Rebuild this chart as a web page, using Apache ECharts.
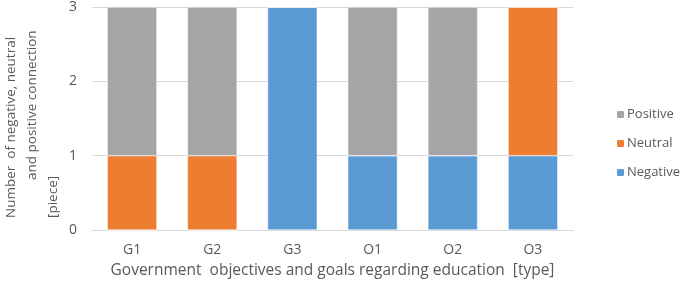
<!DOCTYPE html>
<html>
<head>
<meta charset="utf-8">
<script src="https://cdn.jsdelivr.net/npm/echarts@6/dist/echarts.min.js"></script>
<style>
  html, body { margin: 0; padding: 0; background: #fff; }
  #chart { width: 685px; height: 281px; }
</style>
</head>
<body>
<div id="chart"></div>
<script>
const categories = ['G1', 'G2', 'G3', 'O1', 'O2', 'O3'];
const negative = [0, 0, 3, 1, 1, 1];
const neutral = [1, 1, 0, 0, 0, 2];
const positive = [2, 2, 0, 2, 2, 0];
const yTicks = [0, 1, 2, 3];

const font = '"Open Sans", Lato, sans-serif';
const textColor = '#595959';

const myChart = echarts.init(document.getElementById('chart'));
const option = {
  animation: false,
  textStyle: { fontFamily: font },
  grid: { left: 92, right: 112, top: 7, bottom: 51, outerBoundsMode: 'none', containLabel: false },
  legend: {
    orient: 'vertical',
    left: 610,
    top: 103,
    itemWidth: 9,
    itemHeight: 9,
    itemGap: 16,
    data: ['Positive', 'Neutral', 'Negative'],
    textStyle: { color: textColor, fontSize: 13, fontFamily: font, padding: [0, 0, 0, -3] }
  },
  xAxis: {
    type: 'category',
    data: categories,
    name: 'Government  objectives and goals regarding education  [type]',
    nameLocation: 'middle',
    nameGap: 33,
    nameTextStyle: { color: textColor, fontSize: 15.5, fontFamily: font },
    axisLine: { lineStyle: { color: '#D9D9D9' } },
    axisTick: { show: false },
    axisLabel: { color: textColor, fontSize: 14, margin: 13, fontFamily: font }
  },
  yAxis: {
    type: 'value',
    min: yTicks[0],
    max: yTicks[yTicks.length - 1],
    interval: 1,
    axisLine: { show: false },
    axisTick: { show: false },
    axisLabel: { color: textColor, fontSize: 14, margin: 15, fontFamily: font },
    splitLine: { lineStyle: { color: '#D9D9D9' } }
  },
  graphic: [
    { type: 'text', x: 11, y: 218, rotation: Math.PI / 2,
      style: { text: 'Number  of negative, neutral', fill: textColor, font: '13.5px ' + font, textAlign: 'left', textVerticalAlign: 'middle' } },
    { type: 'text', x: 32, y: 180, rotation: Math.PI / 2,
      style: { text: 'and positive connection', fill: textColor, font: '13.5px ' + font, textAlign: 'left', textVerticalAlign: 'middle' } },
    { type: 'text', x: 53, y: 218, rotation: Math.PI / 2,
      style: { text: '[piece]', fill: textColor, font: '13.5px ' + font, textAlign: 'left', textVerticalAlign: 'middle' } }
  ],
  series: [
    { name: 'Negative', type: 'bar', stack: 'total', data: negative, barWidth: '62%',
      itemStyle: { color: '#5B9BD5', borderColor: '#fff', borderWidth: 0.5 } },
    { name: 'Neutral', type: 'bar', stack: 'total', data: neutral,
      itemStyle: { color: '#ED7D31', borderColor: '#fff', borderWidth: 0.5 } },
    { name: 'Positive', type: 'bar', stack: 'total', data: positive,
      itemStyle: { color: '#A5A5A5', borderColor: '#fff', borderWidth: 0.5 } }
  ]
};
myChart.setOption(option);
</script>
</body>
</html>
